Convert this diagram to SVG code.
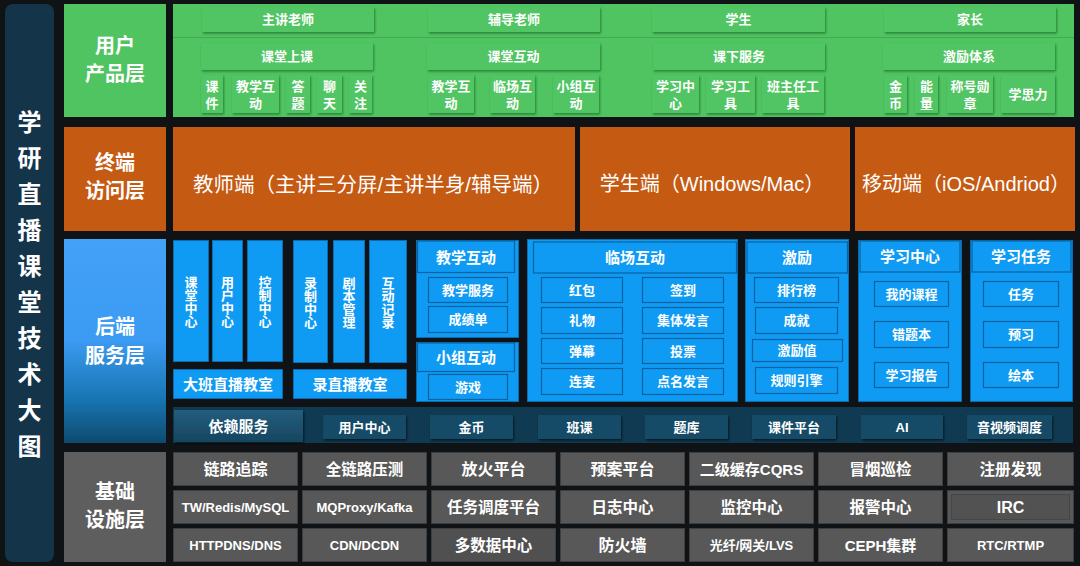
<svg xmlns="http://www.w3.org/2000/svg" width="1080" height="566" viewBox="0 0 1080 566">
<defs>
<filter id="gs" x="-20%" y="-20%" width="140%" height="150%"><feDropShadow dx="1" dy="1.5" stdDeviation="1" flood-color="#1f6a2c" flood-opacity="0.75"/></filter>
<filter id="ds" x="-20%" y="-20%" width="140%" height="150%"><feDropShadow dx="1" dy="1.5" stdDeviation="1" flood-color="#000" flood-opacity="0.6"/></filter>
<linearGradient id="bl" x1="0" y1="0" x2="0" y2="1">
<stop offset="0" stop-color="#43a1f8"/><stop offset="0.5" stop-color="#3b9af1"/><stop offset="0.78" stop-color="#1876b3"/><stop offset="1" stop-color="#0e4a70"/>
</linearGradient>
<linearGradient id="dep" x1="0" y1="0" x2="0" y2="1">
<stop offset="0" stop-color="#245d7c"/><stop offset="1" stop-color="#164660"/>
</linearGradient>
</defs>
<style>
text{font-family:"Liberation Sans","Noto Sans CJK SC",sans-serif;fill:#fff;font-weight:bold;text-anchor:middle;dominant-baseline:central}
.n{font-weight:normal}
.f13{font-size:13px}.f15{font-size:15px}.f155{font-size:15.5px}.f16{font-size:16px}.f20{font-size:20px}.f205{font-size:20.5px}.f24{font-size:24px}
.gp{fill:#4fc461}
.gb{fill:#51c563;filter:url(#gs)}
.or{fill:#c55a13}
.bb{fill:#0f9bf3;stroke:#0a6cae;stroke-width:1}
.bs{fill:#0f9bf3;stroke:#0a62a0;stroke-width:1.2}
.db{fill:#184b67;filter:url(#ds)}
.gr{fill:#585858;stroke:#3e3e3e;stroke-width:1}
</style>
<rect width="1080" height="566" fill="#101315"/>

<g id="title">
<rect x="5" y="4" width="49" height="558" rx="8" fill="#14344a"/>
<text class="f24" x="29.5"><tspan x="29.5" y="122">学</tspan><tspan x="29.5" y="158">研</tspan><tspan x="29.5" y="194">直</tspan><tspan x="29.5" y="230">播</tspan><tspan x="29.5" y="266">课</tspan><tspan x="29.5" y="302">堂</tspan><tspan x="29.5" y="338">技</tspan><tspan x="29.5" y="374">术</tspan><tspan x="29.5" y="410">大</tspan><tspan x="29.5" y="446">图</tspan></text>
</g>

<g id="layer-user">
<rect x="64" y="4" width="102" height="113" fill="#4fc461"/>
<text class="f20"><tspan x="115" y="46">用户</tspan><tspan x="115" y="74">产品层</tspan></text>
</g>
<g id="layer-terminal">
<rect x="64" y="127" width="102" height="104" fill="#c55a13"/>
<text class="f20"><tspan x="115" y="163">终端</tspan><tspan x="115" y="191">访问层</tspan></text>
</g>
<g id="layer-backend">
<rect x="64" y="239" width="102" height="204" fill="url(#bl)"/>
<text class="f20"><tspan x="115" y="327">后端</tspan><tspan x="115" y="356">服务层</tspan></text>
</g>
<g id="layer-infra">
<rect x="64" y="452" width="102" height="110" fill="#5e5e5e"/>
<text class="f20"><tspan x="115" y="492">基础</tspan><tspan x="115" y="520">设施层</tspan></text>
</g>

<g id="user-panel">
<rect class="gp" x="173" y="4" width="901" height="113"/>
<line x1="173" y1="37.5" x2="1074" y2="37.5" stroke="#43a853" stroke-width="1"/>
</g>
<g id="u-zhujiang"><rect class="gb" x="202" y="7" width="172" height="25"/><text class="f13" x="288" y="19.5">主讲老师</text></g>
<g id="u-fudao"><rect class="gb" x="428" y="7" width="172" height="25"/><text class="f13" x="514" y="19.5">辅导老师</text></g>
<g id="u-xuesheng"><rect class="gb" x="652" y="7" width="173" height="25"/><text class="f13" x="738.5" y="19.5">学生</text></g>
<g id="u-jiazhang"><rect class="gb" x="884" y="7" width="172" height="25"/><text class="f13" x="970" y="19.5">家长</text></g>

<g id="u-ketang"><rect class="gb" x="201" y="43" width="172" height="27"/><text class="f13" x="287" y="56.5">课堂上课</text></g>
<g id="u-hudong"><rect class="gb" x="427" y="43" width="173" height="27"/><text class="f13" x="513.5" y="56.5">课堂互动</text></g>
<g id="u-kexia"><rect class="gb" x="653" y="43" width="172" height="27"/><text class="f13" x="739" y="56.5">课下服务</text></g>
<g id="u-jili"><rect class="gb" x="883" y="43" width="172" height="27"/><text class="f13" x="969" y="56.5">激励体系</text></g>

<g id="u-kejian"><rect class="gb" x="201" y="75" width="22" height="38"/><text class="f13"><tspan x="212" y="85.5">课</tspan><tspan x="212" y="103">件</tspan></text></g>
<g id="u-jxhd1"><rect class="gb" x="232" y="75" width="47" height="38"/><text class="f13"><tspan x="255.5" y="85.5">教学互</tspan><tspan x="255.5" y="103">动</tspan></text></g>
<g id="u-dati"><rect class="gb" x="286" y="75" width="24" height="38"/><text class="f13"><tspan x="298" y="85.5">答</tspan><tspan x="298" y="103">题</tspan></text></g>
<g id="u-liaotian"><rect class="gb" x="317" y="75" width="25" height="38"/><text class="f13"><tspan x="329.5" y="85.5">聊</tspan><tspan x="329.5" y="103">天</tspan></text></g>
<g id="u-guanzhu"><rect class="gb" x="349" y="75" width="23" height="38"/><text class="f13"><tspan x="360.5" y="85.5">关</tspan><tspan x="360.5" y="103">注</tspan></text></g>

<g id="u-jxhd2"><rect class="gb" x="428" y="75" width="46" height="38"/><text class="f13"><tspan x="451" y="85.5">教学互</tspan><tspan x="451" y="103">动</tspan></text></g>
<g id="u-lchd"><rect class="gb" x="490" y="75" width="45" height="38"/><text class="f13"><tspan x="512.5" y="85.5">临场互</tspan><tspan x="512.5" y="103">动</tspan></text></g>
<g id="u-xzhd"><rect class="gb" x="553" y="75" width="46" height="38"/><text class="f13"><tspan x="576" y="85.5">小组互</tspan><tspan x="576" y="103">动</tspan></text></g>

<g id="u-xxzx"><rect class="gb" x="652" y="75" width="47" height="38"/><text class="f13"><tspan x="675.5" y="85.5">学习中</tspan><tspan x="675.5" y="103">心</tspan></text></g>
<g id="u-xxgj"><rect class="gb" x="706" y="75" width="49" height="38"/><text class="f13"><tspan x="730.5" y="85.5">学习工</tspan><tspan x="730.5" y="103">具</tspan></text></g>
<g id="u-bzrgj"><rect class="gb" x="762" y="75" width="62" height="38"/><text class="f13"><tspan x="793" y="85.5">班主任工</tspan><tspan x="793" y="103">具</tspan></text></g>

<g id="u-jinbi"><rect class="gb" x="884" y="75" width="23" height="38"/><text class="f13"><tspan x="895.5" y="85.5">金</tspan><tspan x="895.5" y="103">币</tspan></text></g>
<g id="u-nengliang"><rect class="gb" x="915" y="75" width="23" height="38"/><text class="f13"><tspan x="926.5" y="85.5">能</tspan><tspan x="926.5" y="103">量</tspan></text></g>
<g id="u-chenghao"><rect class="gb" x="947" y="75" width="46" height="38"/><text class="f13"><tspan x="970" y="85.5">称号勋</tspan><tspan x="970" y="103">章</tspan></text></g>
<g id="u-xuesili"><rect class="gb" x="1001" y="75" width="54" height="38"/><text class="f13" x="1028" y="94">学思力</text></g>

<g id="t-teacher"><rect class="or" x="173" y="127" width="402" height="104"/><text class="f205 n" x="373" y="184">教师端（主讲三分屏/主讲半身/辅导端）</text></g>
<g id="t-student"><rect class="or" x="580" y="127" width="270" height="104"/><text class="f20 n" x="712" y="184">学生端（Windows/Mac）</text></g>
<g id="t-mobile"><rect class="or" x="855" y="127" width="220" height="104"/><text class="f20 n" x="966" y="184">移动端（iOS/Andriod）</text></g>

<g id="b-ktzx"><rect class="bb" x="173.5" y="240.5" width="35" height="121"/><text class="f13"><tspan x="191" y="282">课</tspan><tspan x="191" y="295">堂</tspan><tspan x="191" y="308">中</tspan><tspan x="191" y="321">心</tspan></text></g>
<g id="b-yhzx"><rect class="bb" x="212.5" y="240.5" width="30" height="121"/><text class="f13"><tspan x="227.5" y="282">用</tspan><tspan x="227.5" y="295">户</tspan><tspan x="227.5" y="308">中</tspan><tspan x="227.5" y="321">心</tspan></text></g>
<g id="b-kzzx"><rect class="bb" x="247.5" y="240.5" width="35" height="121"/><text class="f13"><tspan x="265" y="282">控</tspan><tspan x="265" y="295">制</tspan><tspan x="265" y="308">中</tspan><tspan x="265" y="321">心</tspan></text></g>
<g id="b-dbzb"><rect class="bb" x="173.5" y="369.5" width="109" height="29"/><text class="f15" x="228" y="384">大班直播教室</text></g>

<g id="b-lzzx"><rect class="bb" x="293.5" y="240.5" width="34" height="122"/><text class="f13"><tspan x="310.5" y="283">录</tspan><tspan x="310.5" y="296">制</tspan><tspan x="310.5" y="309">中</tspan><tspan x="310.5" y="322">心</tspan></text></g>
<g id="b-jbgl"><rect class="bb" x="333.5" y="240.5" width="31" height="122"/><text class="f13"><tspan x="349" y="283">剧</tspan><tspan x="349" y="296">本</tspan><tspan x="349" y="309">管</tspan><tspan x="349" y="322">理</tspan></text></g>
<g id="b-hdjl"><rect class="bb" x="369.5" y="240.5" width="37" height="122"/><text class="f13"><tspan x="388" y="283">互</tspan><tspan x="388" y="296">动</tspan><tspan x="388" y="309">记</tspan><tspan x="388" y="322">录</tspan></text></g>
<g id="b-lzb"><rect class="bb" x="293.5" y="369.5" width="113" height="29"/><text class="f15" x="350" y="384">录直播教室</text></g>

<g id="b-jxhd">
<rect class="bb" x="416.5" y="240.5" width="102" height="97"/>
<rect class="bs" x="417.5" y="241" width="97" height="31.5"/><text class="f15" x="466" y="257">教学互动</text>
<rect class="bs" x="428.5" y="277.5" width="79" height="25"/><text class="f13" x="468" y="290">教学服务</text>
<rect class="bs" x="428.5" y="306.5" width="79" height="26"/><text class="f13" x="468" y="319.5">成绩单</text>
</g>
<g id="b-xzhd">
<rect class="bb" x="416.5" y="342.5" width="102" height="59"/>
<rect class="bs" x="417.5" y="343" width="97" height="28.5"/><text class="f15" x="466" y="357">小组互动</text>
<rect class="bs" x="428.5" y="374.5" width="79" height="25"/><text class="f13" x="468" y="387">游戏</text>
</g>

<g id="b-lchd">
<rect class="bb" x="527.5" y="239.5" width="210" height="162"/>
<rect class="bs" x="533.5" y="242" width="203" height="31"/><text class="f15" x="635" y="257.5">临场互动</text>
<rect class="bs" x="541.5" y="277.5" width="81" height="25"/><text class="f13" x="582" y="290">红包</text>
<rect class="bs" x="642.5" y="277.5" width="81" height="25"/><text class="f13" x="683" y="290">签到</text>
<rect class="bs" x="541.5" y="307.5" width="81" height="26"/><text class="f13" x="582" y="320.5">礼物</text>
<rect class="bs" x="642.5" y="307.5" width="81" height="26"/><text class="f13" x="683" y="320.5">集体发言</text>
<rect class="bs" x="541.5" y="338.5" width="81" height="25"/><text class="f13" x="582" y="351">弹幕</text>
<rect class="bs" x="642.5" y="338.5" width="81" height="25"/><text class="f13" x="683" y="351">投票</text>
<rect class="bs" x="541.5" y="368.5" width="81" height="26"/><text class="f13" x="582" y="381.5">连麦</text>
<rect class="bs" x="642.5" y="368.5" width="81" height="26"/><text class="f13" x="683" y="381.5">点名发言</text>
</g>

<g id="b-jili">
<rect class="bb" x="745.5" y="239.5" width="103" height="162"/>
<rect class="bs" x="747" y="242" width="100.5" height="31"/><text class="f15" x="797" y="257.5">激励</text>
<rect class="bs" x="754.5" y="277.5" width="84" height="25"/><text class="f13" x="796.5" y="290">排行榜</text>
<rect class="bs" x="755.5" y="307.5" width="82" height="26"/><text class="f13" x="796.5" y="320.5">成就</text>
<rect class="bs" x="752.5" y="339.5" width="90" height="22"/><text class="f13" x="797" y="350.5">激励值</text>
<rect class="bs" x="755.5" y="367.5" width="82" height="26"/><text class="f13" x="796.5" y="380.5">规则引擎</text>
</g>

<g id="b-xxzx">
<rect class="bb" x="858.5" y="240.5" width="103" height="161"/>
<rect class="bs" x="860" y="241" width="100" height="31"/><text class="f15" x="910" y="256.5">学习中心</text>
<rect class="bs" x="874.5" y="281.5" width="74" height="25"/><text class="f13" x="911.5" y="294">我的课程</text>
<rect class="bs" x="874.5" y="321.5" width="74" height="26"/><text class="f13" x="911.5" y="334.5">错题本</text>
<rect class="bs" x="874.5" y="362.5" width="74" height="25"/><text class="f13" x="911.5" y="375">学习报告</text>
</g>

<g id="b-xxrw">
<rect class="bb" x="970.5" y="240.5" width="102" height="161"/>
<rect class="bs" x="972" y="241" width="99" height="31"/><text class="f15" x="1021" y="256.5">学习任务</text>
<rect class="bs" x="983.5" y="281.5" width="75" height="25"/><text class="f13" x="1021" y="294">任务</text>
<rect class="bs" x="983.5" y="321.5" width="75" height="26"/><text class="f13" x="1021" y="334.5">预习</text>
<rect class="bs" x="983.5" y="362.5" width="75" height="25"/><text class="f13" x="1021" y="375">绘本</text>
</g>

<g id="b-deps">
<rect x="173" y="407" width="900" height="36" fill="#0f3a52"/>
<rect x="174" y="410" width="129" height="32" fill="url(#dep)" filter="url(#ds)"/><text class="f15" x="238.5" y="426">依赖服务</text>
</g>
<g id="d-yhzx"><rect class="db" x="323" y="415" width="83" height="24"/><text class="f13" x="364.5" y="427">用户中心</text></g>
<g id="d-jinbi"><rect class="db" x="430" y="415" width="83" height="24"/><text class="f13" x="471.5" y="427">金币</text></g>
<g id="d-banke"><rect class="db" x="538" y="415" width="83" height="24"/><text class="f13" x="579.5" y="427">班课</text></g>
<g id="d-tiku"><rect class="db" x="645" y="415" width="83" height="24"/><text class="f13" x="686.5" y="427">题库</text></g>
<g id="d-kjpt"><rect class="db" x="752" y="415" width="84" height="24"/><text class="f13" x="794" y="427">课件平台</text></g>
<g id="d-ai"><rect class="db" x="861" y="415" width="82" height="24"/><text class="f13" x="902" y="427">AI</text></g>
<g id="d-yspd"><rect class="db" x="967" y="415" width="85" height="24"/><text class="f13" x="1009.5" y="427">音视频调度</text></g>

<g id="i-r1c1"><rect class="gr" x="173.5" y="452.5" width="124" height="33"/><text class="f16" x="235.5" y="469">链路追踪</text></g>
<g id="i-r1c2"><rect class="gr" x="302.5" y="452.5" width="124" height="33"/><text class="f155" x="364.5" y="469">全链路压测</text></g>
<g id="i-r1c3"><rect class="gr" x="431.5" y="452.5" width="124" height="33"/><text class="f16" x="493.5" y="469">放火平台</text></g>
<g id="i-r1c4"><rect class="gr" x="560.5" y="452.5" width="124" height="33"/><text class="f16" x="622.5" y="469">预案平台</text></g>
<g id="i-r1c5"><rect class="gr" x="689.5" y="452.5" width="124" height="33"/><text class="f15" x="751.5" y="469">二级缓存CQRS</text></g>
<g id="i-r1c6"><rect class="gr" x="818.5" y="452.5" width="124" height="33"/><text class="f155" x="880.5" y="469">冒烟巡检</text></g>
<g id="i-r1c7"><rect class="gr" x="947.5" y="452.5" width="126" height="33"/><text class="f155" x="1010.5" y="469">注册发现</text></g>

<g id="i-r2c1"><rect class="gr" x="173.5" y="490.5" width="124" height="33"/><text class="f13" x="235.5" y="507">TW/Redis/MySQL</text></g>
<g id="i-r2c2"><rect class="gr" x="302.5" y="490.5" width="124" height="33"/><text class="f13" x="364.5" y="507">MQProxy/Kafka</text></g>
<g id="i-r2c3"><rect class="gr" x="431.5" y="490.5" width="124" height="33"/><text class="f155" x="493.5" y="507">任务调度平台</text></g>
<g id="i-r2c4"><rect class="gr" x="560.5" y="490.5" width="124" height="33"/><text class="f155" x="622.5" y="507">日志中心</text></g>
<g id="i-r2c5"><rect class="gr" x="689.5" y="490.5" width="124" height="33"/><text class="f155" x="751.5" y="507">监控中心</text></g>
<g id="i-r2c6"><rect class="gr" x="818.5" y="490.5" width="124" height="33"/><text class="f155" x="880.5" y="507">报警中心</text></g>
<g id="i-r2c7"><rect class="gr" x="947.5" y="490.5" width="126" height="33" fill="#4e4e4e"/><rect x="951.5" y="494.5" width="118" height="25" fill="#525252" stroke="#464646"/><text class="f16" x="1010.5" y="507">IRC</text></g>

<g id="i-r3c1"><rect class="gr" x="173.5" y="528.5" width="124" height="33"/><text class="f13" x="235.5" y="545">HTTPDNS/DNS</text></g>
<g id="i-r3c2"><rect class="gr" x="302.5" y="528.5" width="124" height="33"/><text class="f13" x="364.5" y="545">CDN/DCDN</text></g>
<g id="i-r3c3"><rect class="gr" x="431.5" y="528.5" width="124" height="33" style="fill:#505050"/><text class="f155" x="493.5" y="545">多数据中心</text></g>
<g id="i-r3c4"><rect class="gr" x="560.5" y="528.5" width="124" height="33"/><text class="f16" x="622.5" y="545">防火墙</text></g>
<g id="i-r3c5"><rect class="gr" x="689.5" y="528.5" width="124" height="33"/><text class="f13" x="751.5" y="545">光纤/网关/LVS</text></g>
<g id="i-r3c6"><rect class="gr" x="818.5" y="528.5" width="124" height="33"/><text class="f15" x="880.5" y="545">CEPH集群</text></g>
<g id="i-r3c7"><rect class="gr" x="947.5" y="528.5" width="126" height="33"/><text class="f13" x="1010.5" y="545">RTC/RTMP</text></g>
</svg>
